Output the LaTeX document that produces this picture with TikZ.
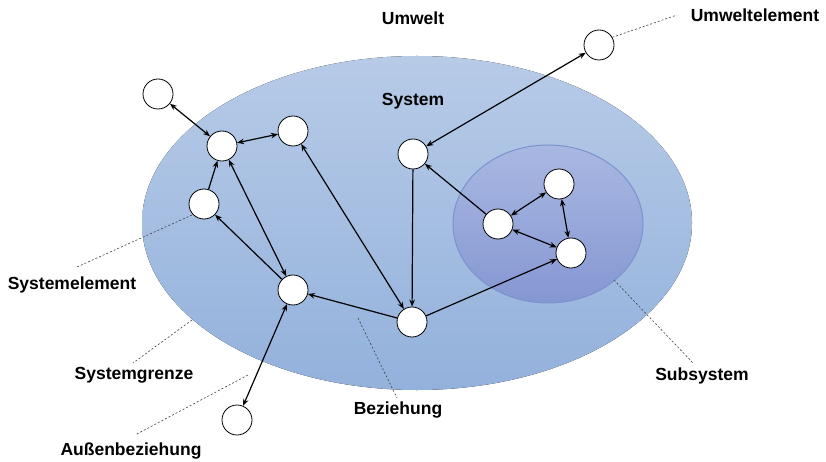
\documentclass[tikz,border=0pt]{standalone}
\usepackage{fontspec}
\setmainfont{Liberation Sans}
\usetikzlibrary{arrows.meta}
\definecolor{sysTop}{HTML}{B7CBE7}
\definecolor{sysBot}{HTML}{93B1DC}
\definecolor{subTop}{HTML}{A9B8E2}
\definecolor{subBot}{HTML}{8597D2}
\definecolor{subEdge}{HTML}{7B93CD}
\tikzset{
  elem/.style={circle, draw=black, fill=white, line width=0.8pt, minimum size=30pt, inner sep=0pt},
  rel/.style={line width=1.2pt, -{Stealth[length=7pt,width=5.5pt]}},
  birel/.style={line width=1.2pt, {Stealth[length=7pt,width=5.5pt]}-{Stealth[length=7pt,width=5.5pt]}},
  leader/.style={draw=black!75, line width=0.6pt, dash pattern=on 2pt off 2pt},
  lbl/.style={font=\bfseries\fontsize{17.5}{20}\selectfont, inner sep=0pt}
}
\begin{document}
\begin{tikzpicture}[x=1pt,y=-1pt]
\useasboundingbox (0,0) rectangle (826,462);

% system and subsystem areas
\fill[top color=sysTop, bottom color=sysBot] (417,223) ellipse [x radius=275, y radius=167];
\draw[subEdge, line width=1pt, top color=subTop, bottom color=subBot] (548,224) ellipse [x radius=95, y radius=79];

% elements
\node[elem] (o1) at (158,94) {};
\node[elem] (a)  at (222,146) {};
\node[elem] (b)  at (293,131) {};
\node[elem] (c)  at (204,204) {};
\node[elem] (d)  at (293,290) {};
\node[elem] (e)  at (413,154) {};
\node[elem] (h)  at (412,322) {};
\node[elem] (s1) at (498,224) {};
\node[elem] (s2) at (559,184) {};
\node[elem] (s3) at (571,253) {};
\node[elem] (u)  at (599,45) {};
\node[elem] (o2) at (237,420) {};

% relations
\draw[birel] (o1) -- (a);
\draw[birel] (a) -- (b);
\draw[rel] (c) -- (a);
\draw[birel] (a) -- (d);
\draw[rel] (d) -- (c);
\draw[birel] (h) -- (b);
\draw[rel] (e) -- (h);
\draw[rel] (h) -- (d);
\draw[birel] (d) -- (o2);
\draw[rel] (h) -- (s3);
\draw[rel] (s1) -- (e);
\draw[birel] (u) -- (e);
\draw[birel] (s1) -- (s2);
\draw[birel] (s2) -- (s3);
\draw[birel] (s1) -- (s3);

% labels
\node[lbl] (tUmwelt) at (413,18) {Umwelt};
\node[lbl] (tSystem) at (413,101) {System};
\node[lbl] (tUe) at (755,15) {Umweltelement};
\node[lbl] (tSe) at (72,285) {Systemelement};
\node[lbl] (tSg) at (134,375) {Systemgrenze};
\node[lbl] (tAb) at (131,451) {Außenbeziehung};
\node[lbl] (tBz) at (398,410) {Beziehung};
\node[lbl] (tSub) at (702,376) {Subsystem};

% leader lines
\coordinate (pUe) at (677,15);
\coordinate (pSe1) at (192,215);
\coordinate (pSe2) at (77,267);
\coordinate (pSg1) at (192,320);
\coordinate (pSg2) at (133,363);
\coordinate (pAb1) at (248,375);
\coordinate (pAb2) at (135,435);
\coordinate (pBz1) at (358,318);
\coordinate (pBz2) at (397,398);
\coordinate (pSub1) at (614,280);
\coordinate (pSub2) at (693,363);
\draw[leader] (u.30) -- (pUe);
\draw[leader] (pSe1) -- (pSe2);
\draw[leader] (pSg1) -- (pSg2);
\draw[leader] (pAb1) -- (pAb2);
\draw[leader] (pBz1) -- (pBz2);
\draw[leader] (pSub1) -- (pSub2);
\end{tikzpicture}
\end{document}
